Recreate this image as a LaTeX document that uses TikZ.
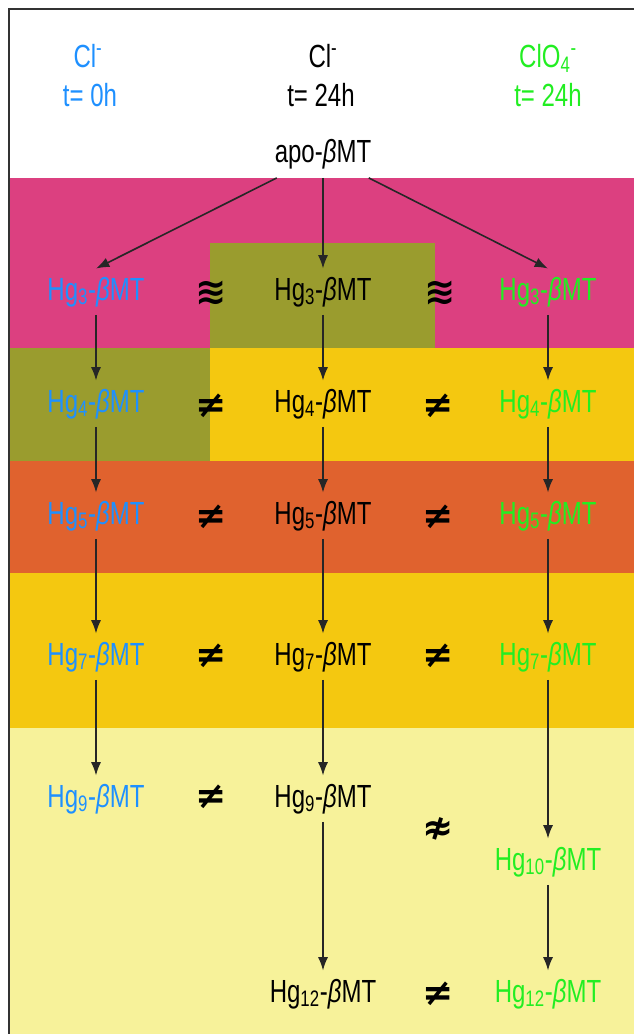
\documentclass[tikz,border=0pt]{standalone}
\usepackage{fontspec}
\setmainfont[FakeStretch=0.75]{Liberation Sans}
\newfontfamily\relfont{DejaVu Sans}
\usetikzlibrary{arrows.meta}

\definecolor{bandpink}{RGB}{220,64,128}
\definecolor{bandolive}{RGB}{154,156,46}
\definecolor{bandyellow}{RGB}{244,200,16}
\definecolor{bandorange}{RGB}{224,98,46}
\definecolor{bandpale}{RGB}{247,242,154}
\definecolor{cblue}{RGB}{30,144,255}
\definecolor{cgreen}{RGB}{34,238,34}

\newcommand{\hgmt}[1]{Hg\textsubscript{#1}-{\itshape β}MT}

\tikzset{
  lab/.style={font=\fontsize{24}{28}\selectfont, inner sep=0pt, anchor=base},
  hg/.style={font=\fontsize{24}{28}\selectfont, inner sep=6pt, anchor=base},
  rel/.style={font=\relfont\bfseries\fontsize{28}{30}\selectfont, inner sep=0pt},
  arr/.style={-{Latex[length=10pt,width=7.5pt]}, line width=1.2pt, black!85},
  frame/.style={line width=2pt, black!80}
}

\begin{document}
\begin{tikzpicture}[x=0.75pt,y=-0.75pt]
\useasboundingbox (0,0) rectangle (634,1034);
% colour bands
\fill[white] (0,0) rectangle (634,1034);
\fill[bandpink] (9,178) rectangle (634,348);
\fill[bandolive] (210,243) rectangle (435,348);
\fill[bandolive] (9,348) rectangle (210,461);
\fill[bandyellow] (210,348) rectangle (634,461);
\fill[bandorange] (9,461) rectangle (634,573);
\fill[bandyellow] (9,573) rectangle (634,728);
\fill[bandpale] (9,728) rectangle (634,1034);
\draw[frame] (9,1034) -- (9,9) -- (634,9);

% column heads
\node[lab, text=cblue] (ionA) at (88,68) {Cl\textsuperscript{-}};
\node[lab, text=cblue] (timeA) at (90,107) {t= 0h};
\node[lab] (ionB) at (323,68) {Cl\textsuperscript{-}};
\node[lab] (timeB) at (321,107) {t= 24h};
\node[lab, text=cgreen] (ionC) at (548,68) {ClO\textsubscript{4}\textsuperscript{-}};
\node[lab, text=cgreen] (timeC) at (548,107) {t= 24h};
\node[hg] (apo) at (323,163) {apo-{\itshape β}MT};

% species
\node[hg, text=cblue] (a3) at (96,300) {\hgmt{3}};
\node[hg, text=cblue] (a4) at (96,412) {\hgmt{4}};
\node[hg, text=cblue] (a5) at (96,524) {\hgmt{5}};
\node[hg, text=cblue] (a7) at (96,665) {\hgmt{7}};
\node[hg, text=cblue] (a9) at (96,807) {\hgmt{9}};
\node[hg] (b3) at (323,300) {\hgmt{3}};
\node[hg] (b4) at (323,412) {\hgmt{4}};
\node[hg] (b5) at (323,524) {\hgmt{5}};
\node[hg] (b7) at (323,665) {\hgmt{7}};
\node[hg] (b9) at (323,807) {\hgmt{9}};
\node[hg] (b12) at (323,1002) {\hgmt{12}};
\node[hg, text=cgreen] (c3) at (548,300) {\hgmt{3}};
\node[hg, text=cgreen] (c4) at (548,412) {\hgmt{4}};
\node[hg, text=cgreen] (c5) at (548,524) {\hgmt{5}};
\node[hg, text=cgreen] (c7) at (548,665) {\hgmt{7}};
\node[hg, text=cgreen] (c10) at (548,870) {\hgmt{10}};
\node[hg, text=cgreen] (c12) at (548,1002) {\hgmt{12}};

% relations
\node[rel] (r3l) at (211,293) {≋};
\node[rel] (r3r) at (440,293) {≋};
\node[rel] (r4l) at (211,406) {≠};
\node[rel] (r4r) at (438,406) {≠};
\node[rel] (r5l) at (211,517) {≠};
\node[rel] (r5r) at (438,517) {≠};
\node[rel] (r7l) at (211,656) {≠};
\node[rel] (r7r) at (438,656) {≠};
\node[rel] (r9l) at (211,797) {≠};
\node[rel] (r9r) at (438,829) {≉};
\node[rel] (r12r) at (438,994) {≠};

% arrows
\draw[arr] (apo) -- (a3.north);
\draw[arr] (apo) -- (b3);
\draw[arr] (apo) -- (c3.north);
\foreach \col/\up/\dn in {a/3/4,a/4/5,a/5/7,a/7/9,b/3/4,b/4/5,b/5/7,b/7/9,b/9/12,c/3/4,c/4/5,c/5/7,c/7/10,c/10/12}
  \draw[arr] (\col\up) -- (\col\dn);
\end{tikzpicture}
\end{document}
